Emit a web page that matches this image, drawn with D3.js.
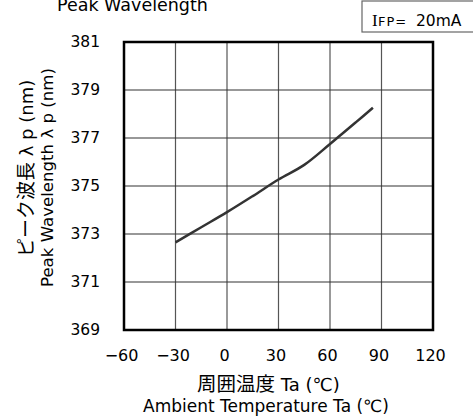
<!DOCTYPE html>
<html>
<head>
<meta charset="utf-8">
<script src="https://cdn.jsdelivr.net/npm/d3@7"></script>
<style>
    body { margin: 0; background: #fff; }
    text { font-family: "DejaVu Sans", "Noto Sans CJK JP", sans-serif; fill: #000; }
    .cjk { font-family: "Noto Sans CJK JP", sans-serif; }
</style>
</head>
<body>
<div id="peakWavelengthChart"></div>
<script>

    // Chart data
    var temperatures = [-30, -15, 0, 15, 30, 45, 60, 75, 85];
    var wavelengths = [372.65, 373.28, 373.91, 374.58, 375.27, 375.88, 376.75, 377.65, 378.26];
    var xTicks = [-60, -30, 0, 30, 60, 90, 120];
    var yTicks = [369, 371, 373, 375, 377, 379, 381];
    var yGrid = [371, 373, 375, 377, 379];

    // Setting chart parameters
    var properties = {
        width: 473,
        height: 420,
        margin: { top: 42, right: 40, bottom: 90, left: 124 }
    };

    // Calculating chart dimensions
    var chartDimensions = {
        width: properties.width - properties.margin.left - properties.margin.right,
        height: properties.height - properties.margin.top - properties.margin.bottom
    };

    // Appending the chart SVG
    var svg = d3.select("#peakWavelengthChart")
        .append("svg")
        .attr("width", properties.width)
        .attr("height", properties.height);

    var chartContent = svg.append("g")
        .attr("transform", "translate(" + properties.margin.left + "," + properties.margin.top + ")");

    // Scales
    var xScale = d3.scaleLinear()
        .domain([-60, 120])
        .range([0, chartDimensions.width]);

    var yScale = d3.scaleLinear()
        .domain([369, 381])
        .range([chartDimensions.height, 0]);

    // Vertical grid lines
    chartContent.append("g")
        .selectAll("line")
        .data(xTicks.slice(1, -1))
        .enter()
        .append("line")
        .attr("x1", function (d) { return xScale(d); })
        .attr("x2", function (d) { return xScale(d); })
        .attr("y1", 0)
        .attr("y2", chartDimensions.height)
        .attr("stroke", "#555")
        .attr("stroke-width", 1.2);

    // Horizontal grid lines
    chartContent.append("g")
        .selectAll("line")
        .data(yGrid)
        .enter()
        .append("line")
        .attr("x1", 0)
        .attr("x2", chartDimensions.width)
        .attr("y1", function (d) { return yScale(d); })
        .attr("y2", function (d) { return yScale(d); })
        .attr("stroke", "#333")
        .attr("stroke-width", 1.2);

    // Plot frame
    chartContent.append("rect")
        .attr("x", 0)
        .attr("y", 0)
        .attr("width", chartDimensions.width)
        .attr("height", chartDimensions.height)
        .attr("fill", "none")
        .attr("stroke", "#000")
        .attr("stroke-width", 2.5);

    // Curve
    var line = d3.line()
        .x(function (d, i) { return xScale(temperatures[i]); })
        .y(function (d) { return yScale(d); })
        .curve(d3.curveCatmullRom);

    chartContent.append("path")
        .datum(wavelengths)
        .attr("d", line)
        .attr("fill", "none")
        .attr("stroke", "#333")
        .attr("stroke-width", 2.5);

    // Y axis tick labels
    var yAxis = chartContent.append("g")
        .call(d3.axisLeft(yScale).tickValues(yTicks).tickSize(0).tickPadding(24).tickFormat(d3.format("d")));
    yAxis.select(".domain").remove();
    yAxis.selectAll("text")
        .attr("font-family", "DejaVu Sans")
        .attr("font-size", 15.5)
        .attr("fill", "#000");

    // X axis tick labels
    var xAxis = chartContent.append("g")
        .attr("transform", "translate(0," + chartDimensions.height + ")")
        .call(d3.axisBottom(xScale).tickValues(xTicks).tickSize(0).tickPadding(20).tickFormat(d3.format("d")));
    xAxis.select(".domain").remove();
    xAxis.selectAll("text")
        .attr("font-family", "DejaVu Sans")
        .attr("font-size", 16)
        .attr("dx", -3)
        .attr("fill", "#000");

    // X axis titles
    var xTitle = svg.append("text")
        .attr("x", 197)
        .attr("y", 391)
        .attr("font-size", 18);
    xTitle.append("tspan").attr("class", "cjk").attr("font-size", 19.5).text("周囲温度");
    xTitle.append("tspan").text(" Ta (℃)");

    svg.append("text")
        .attr("x", 143)
        .attr("y", 412)
        .attr("font-size", 17)
        .text("Ambient Temperature Ta (℃)");

    // Y axis titles
    var yTitle = svg.append("text")
        .attr("transform", "translate(33,257) rotate(-90)")
        .attr("font-size", 18);
    yTitle.append("tspan").attr("class", "cjk").attr("font-size", 19).text("ピーク波長");
    yTitle.append("tspan").text(" λ p (nm)");

    svg.append("text")
        .attr("transform", "translate(53,287) rotate(-90)")
        .attr("font-size", 16.6)
        .text("Peak Wavelength λ p (nm)");

    // Chart title (cut at the top edge, as in the reference)
    svg.append("text")
        .attr("x", 57)
        .attr("y", 11)
        .attr("font-size", 17.5)
        .text("Peak Wavelength");

    // Condition box
    svg.append("rect")
        .attr("x", 362)
        .attr("y", 1)
        .attr("width", 120)
        .attr("height", 31)
        .attr("fill", "#fff")
        .attr("stroke", "#666")
        .attr("stroke-width", 1.2);

    var condition = svg.append("text")
        .attr("y", 26)
        .attr("font-size", 16);
    condition.append("tspan").attr("x", 372).attr("font-family", "Liberation Serif").attr("font-size", 17).text("I");
    condition.append("tspan").attr("x", 378).attr("font-size", 13).attr("letter-spacing", 1).text("FP=");
    condition.append("tspan").attr("x", 416).attr("font-size", 15.5).text("20mA");

</script>
</body>
</html>
